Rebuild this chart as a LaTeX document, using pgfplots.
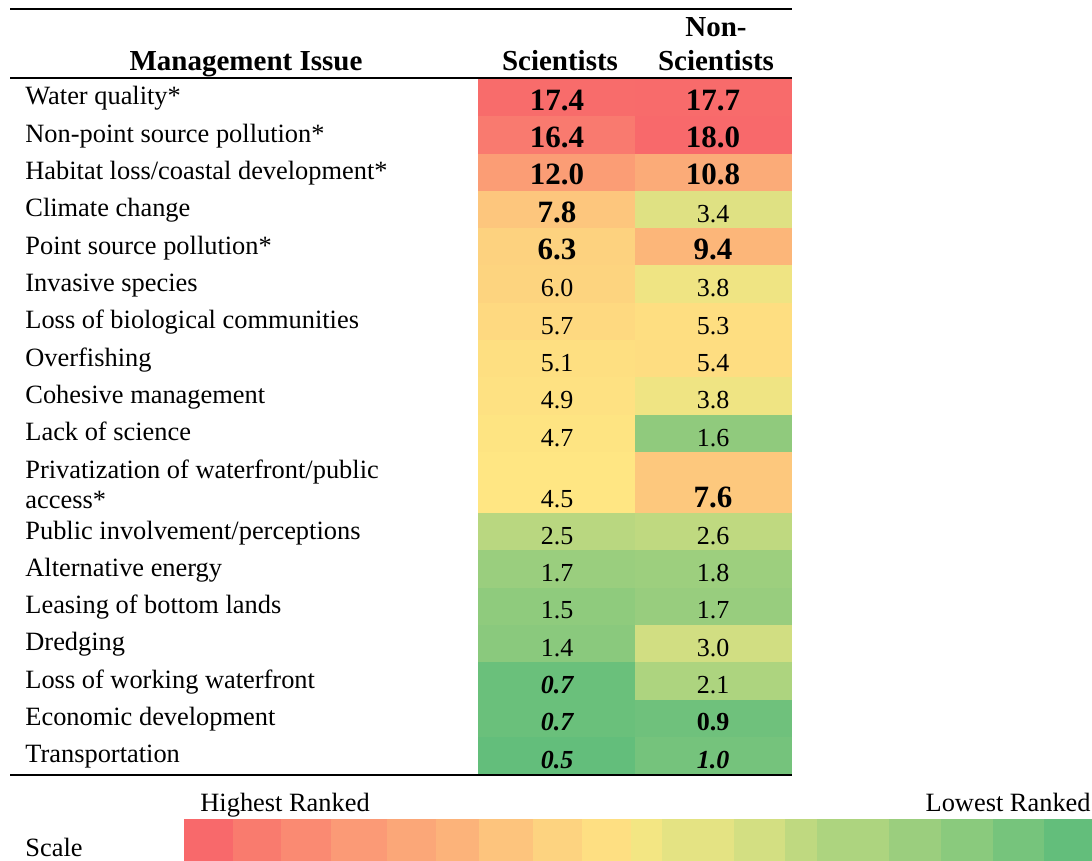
\documentclass[border=0pt]{standalone}
\usepackage{pgfplots}
\pgfplotsset{compat=1.18}
\usepackage{fontspec}
\setmainfont{Liberation Serif}
% scale colours
\definecolor{s1}{RGB}{248,105,107}
\definecolor{s2}{RGB}{249,123,110}
\definecolor{s3}{RGB}{250,138,114}
\definecolor{s4}{RGB}{251,154,118}
\definecolor{s5}{RGB}{251,167,120}
\definecolor{s6}{RGB}{252,179,122}
\definecolor{s7}{RGB}{253,196,125}
\definecolor{s8}{RGB}{253,211,128}
\definecolor{s9}{RGB}{254,223,130}
\definecolor{s10}{RGB}{243,230,131}
\definecolor{s11}{RGB}{228,227,131}
\definecolor{s12}{RGB}{211,223,130}
\definecolor{s13}{RGB}{191,217,128}
\definecolor{s14}{RGB}{173,212,127}
\definecolor{s15}{RGB}{155,206,126}
\definecolor{s16}{RGB}{138,202,125}
\definecolor{s17}{RGB}{118,196,124}
\definecolor{s18}{RGB}{99,190,123}
\newcommand\cell[5]{\addplot[fill={#5},draw=none,forget plot] coordinates {(#1,#2) (#3,#2) (#3,#4) (#1,#4)} -- cycle;}
\newcommand\lab[2]{\node[anchor=base west,inner sep=0pt,font=\fontsize{13.2}{15}\selectfont] at (axis cs:25,#1) {#2};}
\newcommand\num[3]{\node[anchor=base,inner sep=0pt] at (axis cs:#1,#2) {#3};}
\newcommand\B[1]{{\fontsize{15.5}{17}\selectfont\bfseries #1}}
\newcommand\R[1]{{\fontsize{13}{15}\selectfont #1}}
\newcommand\BI[1]{{\fontsize{13}{15}\selectfont\bfseries\itshape #1}}
\newcommand\BS[1]{{\fontsize{13}{15}\selectfont\bfseries #1}}
\begin{document}
\begin{tikzpicture}
\begin{axis}[scale only axis, width=546pt, height=430.5pt,
  xmin=0, xmax=1092, ymin=0, ymax=861, y dir=reverse,
  hide axis, clip=false]
% invisible frame so that the picture spans the full area
\addplot[draw=none, forget plot] coordinates {(0,0) (1092,0) (1092,861) (0,861)};
% ---- Scientists column cells (x 478-635)
\cell{478}{79}{635}{116.3}{rgb,255:red,248;green,108;blue,107}
\cell{478}{116.3}{635}{153.6}{rgb,255:red,249;green,122;blue,111}
\cell{478}{153.6}{635}{190.9}{rgb,255:red,251;green,157;blue,117}
\cell{478}{190.9}{635}{228.2}{rgb,255:red,253;green,198;blue,125}
\cell{478}{228.2}{635}{265.5}{rgb,255:red,253;green,210;blue,127}
\cell{478}{265.5}{635}{302.8}{rgb,255:red,253;green,212;blue,127}
\cell{478}{302.8}{635}{340.1}{rgb,255:red,254;green,217;blue,128}
\cell{478}{340.1}{635}{377.4}{rgb,255:red,254;green,223;blue,129}
\cell{478}{377.4}{635}{414.7}{rgb,255:red,254;green,225;blue,130}
\cell{478}{414.7}{635}{452}{rgb,255:red,254;green,228;blue,130}
\cell{478}{452}{635}{513}{rgb,255:red,255;green,230;blue,131}
\cell{478}{513}{635}{550.3}{rgb,255:red,185;green,215;blue,128}
\cell{478}{550.3}{635}{587.6}{rgb,255:red,154;green,206;blue,126}
\cell{478}{587.6}{635}{624.9}{rgb,255:red,143;green,203;blue,125}
\cell{478}{624.9}{635}{662.2}{rgb,255:red,138;green,201;blue,125}
\cell{478}{662.2}{635}{699.5}{rgb,255:red,106;green,192;blue,123}
\cell{478}{699.5}{635}{736.8}{rgb,255:red,106;green,192;blue,123}
\cell{478}{736.8}{635}{774.1}{rgb,255:red,99;green,190;blue,123}
% ---- Non-Scientists column cells (x 635-792)
\cell{635}{79}{792}{116.3}{rgb,255:red,248;green,107;blue,107}
\cell{635}{116.3}{792}{153.6}{rgb,255:red,248;green,105;blue,107}
\cell{635}{153.6}{792}{190.9}{rgb,255:red,251;green,171;blue,120}
\cell{635}{190.9}{792}{228.2}{rgb,255:red,223;green,225;blue,131}
\cell{635}{228.2}{792}{265.5}{rgb,255:red,252;green,182;blue,121}
\cell{635}{265.5}{792}{302.8}{rgb,255:red,239;green,228;blue,131}
\cell{635}{302.8}{792}{340.1}{rgb,255:red,254;green,222;blue,129}
\cell{635}{340.1}{792}{377.4}{rgb,255:red,254;green,221;blue,129}
\cell{635}{377.4}{792}{414.7}{rgb,255:red,239;green,228;blue,131}
\cell{635}{414.7}{792}{452}{rgb,255:red,144;green,202;blue,125}
\cell{635}{452}{792}{513}{rgb,255:red,253;green,200;blue,125}
\cell{635}{513}{792}{550.3}{rgb,255:red,191;green,217;blue,128}
\cell{635}{550.3}{792}{587.6}{rgb,255:red,157;green,207;blue,126}
\cell{635}{587.6}{792}{624.9}{rgb,255:red,152;green,205;blue,126}
\cell{635}{624.9}{792}{662.2}{rgb,255:red,209;green,222;blue,130}
\cell{635}{662.2}{792}{699.5}{rgb,255:red,173;green,212;blue,127}
\cell{635}{699.5}{792}{736.8}{rgb,255:red,111;green,193;blue,124}
\cell{635}{736.8}{792}{774.1}{rgb,255:red,117;green,195;blue,124}
% ---- scale boxes
\cell{184}{819}{233}{861}{s1}
\cell{233}{819}{281}{861}{s2}
\cell{281}{819}{331}{861}{s3}
\cell{331}{819}{387}{861}{s4}
\cell{387}{819}{436}{861}{s5}
\cell{436}{819}{479}{861}{s6}
\cell{479}{819}{533}{861}{s7}
\cell{533}{819}{582}{861}{s8}
\cell{582}{819}{631}{861}{s9}
\cell{631}{819}{662}{861}{s10}
\cell{662}{819}{734}{861}{s11}
\cell{734}{819}{785}{861}{s12}
\cell{785}{819}{817}{861}{s13}
\cell{817}{819}{889}{861}{s14}
\cell{889}{819}{941}{861}{s15}
\cell{941}{819}{993}{861}{s16}
\cell{993}{819}{1044}{861}{s17}
\cell{1044}{819}{1092}{861}{s18}
% ---- rules
\addplot[black, line width=1pt, forget plot] coordinates {(10,9) (792,9)};
\addplot[black, line width=1pt, forget plot] coordinates {(10,78.5) (792,78.5)};
\addplot[black, line width=1.2pt, forget plot] coordinates {(10,775) (792,775)};
% ---- header
\node[anchor=base,inner sep=0pt,font=\fontsize{14.5}{16}\selectfont\bfseries] at (axis cs:246,71) {Management Issue};
\node[anchor=base,inner sep=0pt,font=\fontsize{14.5}{16}\selectfont\bfseries] at (axis cs:560,71) {Scientists};
\node[anchor=base,inner sep=0pt,font=\fontsize{14.5}{16}\selectfont\bfseries] at (axis cs:716,71) {Scientists};
\node[anchor=base,inner sep=0pt,font=\fontsize{14.5}{16}\selectfont\bfseries] at (axis cs:716,37) {Non-};
% ---- row labels
\lab{105}{Water quality*}
\lab{142.3}{Non-point source pollution*}
\lab{179.6}{Habitat loss/coastal development*}
\lab{216.9}{Climate change}
\lab{254.2}{Point source pollution*}
\lab{291.5}{Invasive species}
\lab{328.8}{Loss of biological communities}
\lab{366.1}{Overfishing}
\lab{403.4}{Cohesive management}
\lab{440.7}{Lack of science}
\lab{478}{Privatization of waterfront/public}
\lab{508}{access*}
\lab{539}{Public involvement/perceptions}
\lab{576.3}{Alternative energy}
\lab{613.6}{Leasing of bottom lands}
\lab{650.9}{Dredging}
\lab{688.2}{Loss of working waterfront}
\lab{725.5}{Economic development}
\lab{762.8}{Transportation}
% ---- Scientists values
\num{557}{110.3}{\B{17.4}}
\num{557}{147.6}{\B{16.4}}
\num{557}{184.9}{\B{12.0}}
\num{557}{222.2}{\B{7.8}}
\num{557}{259.5}{\B{6.3}}
\num{557}{296.8}{\R{6.0}}
\num{557}{334.1}{\R{5.7}}
\num{557}{371.4}{\R{5.1}}
\num{557}{408.7}{\R{4.9}}
\num{557}{446}{\R{4.7}}
\num{557}{507}{\R{4.5}}
\num{557}{544.3}{\R{2.5}}
\num{557}{581.6}{\R{1.7}}
\num{557}{618.9}{\R{1.5}}
\num{557}{656.2}{\R{1.4}}
\num{557}{693.5}{\BI{0.7}}
\num{557}{730.8}{\BI{0.7}}
\num{557}{768.1}{\BI{0.5}}
% ---- Non-Scientists values
\num{713}{110.3}{\B{17.7}}
\num{713}{147.6}{\B{18.0}}
\num{713}{184.9}{\B{10.8}}
\num{713}{222.2}{\R{3.4}}
\num{713}{259.5}{\B{9.4}}
\num{713}{296.8}{\R{3.8}}
\num{713}{334.1}{\R{5.3}}
\num{713}{371.4}{\R{5.4}}
\num{713}{408.7}{\R{3.8}}
\num{713}{446}{\R{1.6}}
\num{713}{507}{\B{7.6}}
\num{713}{544.3}{\R{2.6}}
\num{713}{581.6}{\R{1.8}}
\num{713}{618.9}{\R{1.7}}
\num{713}{656.2}{\R{3.0}}
\num{713}{693.5}{\R{2.1}}
\num{713}{730.8}{\BS{0.9}}
\num{713}{768.1}{\BI{1.0}}
% ---- scale texts
\node[anchor=base west,inner sep=0pt,font=\fontsize{13.2}{15}\selectfont] at (axis cs:200,811) {Highest Ranked};
\node[anchor=base east,inner sep=0pt,font=\fontsize{13.2}{15}\selectfont] at (axis cs:1091,811) {Lowest Ranked};
\node[anchor=base west,inner sep=0pt,font=\fontsize{13.2}{15}\selectfont] at (axis cs:25,856) {Scale};
\end{axis}
\end{tikzpicture}
\end{document}
